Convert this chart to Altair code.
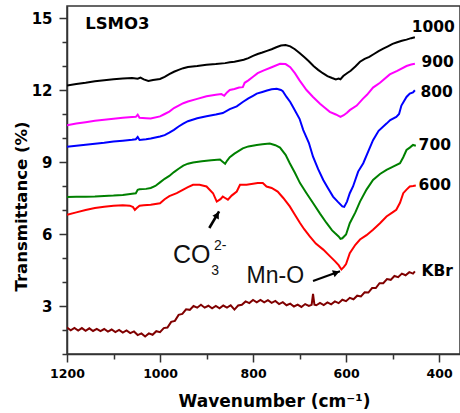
import altair as alt
import pandas as pd

# FTIR transmittance spectra of LSMO3 annealed at different temperatures, plus KBr
wn_1000 = [1200, 1180, 1160, 1140, 1120, 1100, 1080, 1060, 1048, 1042, 1035, 1025, 1015,
           1000, 990, 980, 970, 960, 950, 940, 920, 900, 880, 860, 850, 840, 830, 820, 810,
           800, 790, 780, 770, 760, 750, 740, 730, 720, 710, 700, 690, 680, 670, 660, 650,
           640, 630, 622, 616, 612, 606, 598, 590, 580, 570, 560, 550, 540, 530, 520, 510,
           500, 490, 480, 470, 460, 452]
t_1000 = [12.19, 12.25, 12.30, 12.36, 12.41, 12.45, 12.48, 12.50, 12.47, 12.52, 12.44, 12.38, 12.42,
          12.46, 12.55, 12.66, 12.76, 12.84, 12.91, 12.96, 13.00, 13.05, 13.08, 13.12, 13.16, 13.18,
          13.22, 13.26, 13.33, 13.42, 13.50, 13.56, 13.63, 13.70, 13.78, 13.85, 13.87, 13.82, 13.70,
          13.54, 13.37, 13.20, 13.00, 12.84, 12.70, 12.58, 12.50, 12.44, 12.48, 12.45, 12.58, 12.70,
          12.80, 12.98, 13.18, 13.30, 13.38, 13.50, 13.62, 13.72, 13.82, 13.92, 13.99, 14.05, 14.10,
          14.16, 14.20]

wn_900 = [1200, 1180, 1160, 1140, 1120, 1100, 1080, 1060, 1052, 1048, 1044, 1030, 1020,
          1000, 990, 980, 970, 960, 950, 940, 920, 900, 880, 868, 862, 856, 850, 840, 830,
          822, 818, 810, 800, 790, 778, 760, 742, 730, 720, 710, 700, 685, 671, 656, 645,
          635, 622, 612, 605, 598, 592, 577, 564, 555, 542, 527, 506, 490, 470, 460, 452]
t_900 = [10.53, 10.60, 10.66, 10.72, 10.76, 10.80, 10.84, 10.87, 10.88, 10.97, 10.84, 10.82, 10.81,
         10.90, 11.00, 11.10, 11.25, 11.35, 11.45, 11.52, 11.63, 11.74, 11.80, 11.83, 11.76, 11.90,
         12.00, 12.04, 12.10, 12.12, 12.30, 12.40, 12.55, 12.70, 12.81, 12.95, 13.09, 13.08, 12.95,
         12.70, 12.40, 12.00, 11.71, 11.43, 11.25, 11.09, 10.98, 10.88, 10.95, 11.05, 11.16, 11.35,
         11.63, 11.80, 12.10, 12.30, 12.65, 12.80, 13.00, 13.06, 13.09]

wn_800 = [1200, 1180, 1160, 1140, 1120, 1100, 1080, 1060, 1052, 1048, 1044, 1030, 1020,
          1000, 990, 980, 970, 960, 950, 940, 920, 900, 880, 865, 850, 835, 822, 810, 800,
          792, 780, 770, 760, 749, 740, 736, 728, 720, 714, 700, 692, 680, 671, 660, 649,
          640, 628, 618, 608, 604, 598, 592, 585, 574, 563, 552, 542, 530, 513, 505, 492,
          486, 481, 470, 463, 456, 452]
t_800 = [9.64, 9.68, 9.72, 9.76, 9.80, 9.85, 9.89, 9.93, 9.95, 10.04, 9.92, 9.95, 9.98,
         10.06, 10.12, 10.22, 10.34, 10.48, 10.60, 10.70, 10.82, 10.91, 10.98, 11.04, 11.20, 11.32,
         11.50, 11.65, 11.76, 11.85, 11.92, 11.98, 12.03, 12.05, 12.00, 11.95, 11.71, 11.50, 11.29,
         10.80, 10.33, 9.80, 9.22, 8.70, 8.25, 7.95, 7.56, 7.35, 7.15, 7.13, 7.35, 7.70, 7.98,
         8.60, 8.95, 9.45, 9.91, 10.30, 10.60, 10.75, 10.88, 11.00, 11.35, 11.71, 11.85, 11.90, 11.99]

wn_700 = [1200, 1180, 1160, 1140, 1120, 1100, 1080, 1060, 1052, 1048, 1044, 1030, 1020,
          1010, 1000, 990, 980, 970, 960, 950, 940, 929, 910, 890, 871, 866, 860, 856, 850,
          840, 822, 810, 792, 780, 764, 752, 742, 730, 721, 710, 699, 685, 671, 656, 642,
          630, 624, 616, 612, 608, 600, 592, 580, 570, 556, 542, 527, 513, 500, 484, 477,
          470, 463, 456, 450]
t_700 = [7.54, 7.55, 7.55, 7.56, 7.58, 7.60, 7.63, 7.68, 7.70, 7.84, 7.86, 7.88, 7.92,
         8.00, 8.15, 8.30, 8.42, 8.58, 8.72, 8.85, 8.93, 8.98, 9.03, 9.07, 9.10, 9.02, 8.93,
         9.05, 9.20, 9.35, 9.57, 9.65, 9.71, 9.74, 9.77, 9.70, 9.60, 9.30, 8.95, 8.55, 8.12,
         7.70, 7.29, 6.85, 6.46, 6.15, 6.04, 5.90, 5.80, 5.82, 5.98, 6.45, 6.90, 7.35, 7.85,
         8.25, 8.50, 8.67, 8.80, 8.95, 9.20, 9.50, 9.60, 9.71, 9.68]

wn_600 = [1200, 1180, 1160, 1140, 1120, 1100, 1080, 1065, 1058, 1054, 1050, 1044, 1035, 1020,
          1000, 990, 980, 964, 950, 940, 929, 915, 900, 886, 878, 870, 865, 860, 854, 846,
          835, 828, 814, 800, 790, 779, 771, 760, 747, 735, 721, 710, 699, 690, 678, 665,
          649, 636, 624, 616, 610, 605, 600, 592, 580, 570, 556, 542, 527, 513, 500, 492,
          484, 477, 470, 463, 456, 450]
t_600 = [6.80, 6.90, 7.00, 7.08, 7.14, 7.18, 7.20, 7.18, 7.12, 7.00, 7.08, 7.18, 7.20, 7.22,
         7.28, 7.45, 7.58, 7.70, 7.85, 7.95, 8.05, 8.05, 7.98, 7.70, 7.35, 7.45, 7.56, 7.50,
         7.43, 7.60, 7.77, 8.05, 8.05, 8.09, 8.12, 8.12, 7.98, 7.92, 7.77, 7.50, 7.15, 6.80,
         6.46, 6.20, 5.90, 5.60, 5.35, 5.10, 4.87, 4.70, 4.52, 4.62, 4.75, 5.20, 5.55, 5.77,
         5.95, 6.18, 6.45, 6.73, 6.90, 7.01, 7.30, 7.70, 7.85, 7.98, 8.00, 8.02]

wn_kbr = [1200, 1192, 1184, 1176, 1168, 1160, 1152, 1144, 1136, 1128, 1120, 1112, 1104, 1096,
          1088, 1080, 1072, 1064, 1056, 1048, 1040, 1032, 1024, 1016, 1008, 1000, 992, 984,
          976, 968, 960, 952, 944, 936, 928, 920, 912, 904, 896, 888, 880, 872, 864, 856,
          848, 840, 832, 824, 816, 808, 800, 792, 784, 776, 768, 760, 752, 744, 736, 728,
          720, 712, 704, 696, 688, 680, 674, 671, 668, 664, 656, 648, 640, 632, 624, 616,
          608, 600, 592, 584, 576, 568, 560, 552, 544, 536, 528, 520, 512, 504, 496, 488,
          480, 472, 464, 456, 452]
t_kbr = [2.10, 1.99, 2.09, 1.98, 2.08, 1.97, 2.07, 1.96, 2.05, 1.95, 2.04, 1.93, 2.02, 1.91,
         2.00, 1.89, 1.98, 1.87, 1.94, 1.79, 1.86, 1.73, 1.86, 1.80, 1.95, 1.91, 2.08, 2.10,
         2.34, 2.38, 2.63, 2.67, 2.86, 2.84, 3.00, 2.93, 3.05, 2.93, 3.01, 2.90, 3.00, 2.90,
         3.02, 2.93, 3.03, 2.85, 3.02, 3.05, 3.19, 3.12, 3.25, 3.15, 3.25, 3.15, 3.24, 3.13,
         3.21, 3.08, 3.16, 3.03, 3.10, 2.98, 3.06, 2.96, 3.08, 3.00, 3.05, 3.50, 3.05, 3.03,
         3.13, 3.04, 3.15, 3.07, 3.19, 3.12, 3.26, 3.20, 3.34, 3.28, 3.43, 3.40, 3.57, 3.56,
         3.75, 3.75, 3.95, 3.95, 4.12, 4.09, 4.25, 4.20, 4.35, 4.28, 4.41, 4.35, 4.44]

series_names = ["1000", "900", "800", "700", "600", "KBr"]
series_colors = ["#000000", "#ff00ff", "#0000ff", "#008000", "#ff0000", "#800000"]
series_data = [(wn_1000, t_1000), (wn_900, t_900), (wn_800, t_800),
               (wn_700, t_700), (wn_600, t_600), (wn_kbr, t_kbr)]

# curve end labels (left edge, baseline)
label_text = ["1000", "900", "800", "700", "600", "KBr"]
label_wn = [459, 438, 440, 444, 444, 438]
label_t = [14.40, 12.95, 11.71, 9.50, 7.84, 4.27]

rows = []
for name, (ws, ts) in zip(series_names, series_data, strict=True):
    for w, t in zip(ws, ts, strict=True):
        rows.append({"wn": w, "t": t, "s": name})
spectra = pd.DataFrame(rows)

labels = pd.DataFrame({"wn": label_wn, "t": label_t, "label": label_text})
title_df = pd.DataFrame({"wn": [1161], "t": [14.54], "label": ["LSMO3"]})

# peak annotations: CO3(2-) and Mn-O
ann = pd.DataFrame({
    "wn": [972, 890, 884, 814],
    "t": [4.80, 4.31, 5.35, 3.97],
    "label": ["CO", "3", "2-", "Mn-O"],
    "fs": [25, 14, 14, 23],
})
arrows = pd.DataFrame({
    "wn": [894, 671], "t": [6.25, 4.04],
    "wn2": [873, 613], "t2": [6.94, 4.45],
    "hw": [877, 621], "ht": [6.80, 4.39],
    "ang": [30, 69.5],
    "w": [2.6, 2.0],
})

W, H = 393, 348
frame = "#333333"
bold = "DejaVu Sans"

x_axis = alt.Axis(
    values=list(range(400, 1201, 100)), format="d",
    labelExpr="datum.value % 200 === 0 ? datum.label : ''",
    tickSize={"condition": {"test": "datum.value % 200 === 0", "value": 8}, "value": 5},
    grid=False, labelFont=bold, labelFontWeight="bold", labelFontSize=12.5, labelColor="#000",
    labelPadding=5, labelFlush=False, labelOverlap=False,
    domainColor=frame, domainWidth=1.5, tickColor=frame, tickWidth=1.5,
    title="Wavenumber (cm\u207b\u00b9)", titleFont=bold, titleFontWeight="bold", titleFontSize=17,
    titleColor="#000", titleX=207, titleY=52, titleBaseline="alphabetic", titleAlign="center",
)
y_axis = alt.Axis(
    values=list(range(1, 16)), format="d",
    labelExpr="datum.value % 3 === 0 ? datum.label : ''",
    tickSize={"condition": {"test": "datum.value % 3 === 0", "value": 8}, "value": 5},
    grid=False, labelFont=bold, labelFontWeight="bold", labelFontSize=15, labelColor="#000",
    labelPadding=7, labelFlush=False, labelOverlap=False,
    domainColor=frame, domainWidth=1.5, tickColor=frame, tickWidth=1.5,
    title="Transmittance (%)", titleFont=bold, titleFontWeight="bold", titleFontSize=16.5,
    titleColor="#000", titleX=-41, titleY=200, titleBaseline="alphabetic", titleAlign="center",
    titleAngle=270,
)
x_scale = alt.Scale(domain=[355, 1200], reverse=True, nice=False, zero=False)
y_scale = alt.Scale(domain=[1, 15.5], nice=False, zero=False)
X = alt.X("wn:Q", scale=x_scale, axis=x_axis)
Y = alt.Y("t:Q", scale=y_scale, axis=y_axis)

lines = alt.Chart(spectra).mark_line(strokeWidth=2, clip=True).encode(
    x=X, y=Y,
    color=alt.Color("s:N", scale=alt.Scale(domain=series_names, range=series_colors), legend=None),
    detail="s:N",
)

curve_labels = alt.Chart(labels).mark_text(
    font=bold, fontWeight="bold", fontSize=15.5, align="left", baseline="alphabetic", color="#000"
).encode(x=X, y=Y, text="label:N")

sample_label = alt.Chart(title_df).mark_text(
    font=bold, fontWeight="bold", fontSize=16.5, align="left", baseline="alphabetic", color="#000"
).encode(x=X, y=Y, text="label:N")

ann_text = alt.Chart(ann).mark_text(
    font="Liberation Sans", align="left", baseline="alphabetic", color="#111"
).encode(x=X, y=Y, text="label:N", size=alt.Size("fs:Q", scale=None))

arrow_shaft = alt.Chart(arrows).mark_rule(color="#000").encode(
    x=X, y=Y, x2="wn2:Q", y2="t2:Q", size=alt.Size("w:Q", scale=None)
)
arrow_head = alt.Chart(arrows).mark_point(
    shape="triangle-up", filled=True, color="#000", opacity=1, size=55
).encode(
    x=alt.X("hw:Q", scale=x_scale, axis=x_axis),
    y=alt.Y("ht:Q", scale=y_scale, axis=y_axis),
    angle=alt.Angle("ang:Q", scale=None),
)

chart = alt.layer(lines, curve_labels, sample_label, ann_text, arrow_shaft, arrow_head).properties(
    width=W, height=H,
    autosize=alt.AutoSizeParams(type="none"),
    padding={"left": 67, "top": 6, "right": 0, "bottom": 59},
    background="white",
).configure_view(stroke=frame, strokeWidth=1.5)

chart.save("out.html", embed_options={"renderer": "svg", "actions": False})
